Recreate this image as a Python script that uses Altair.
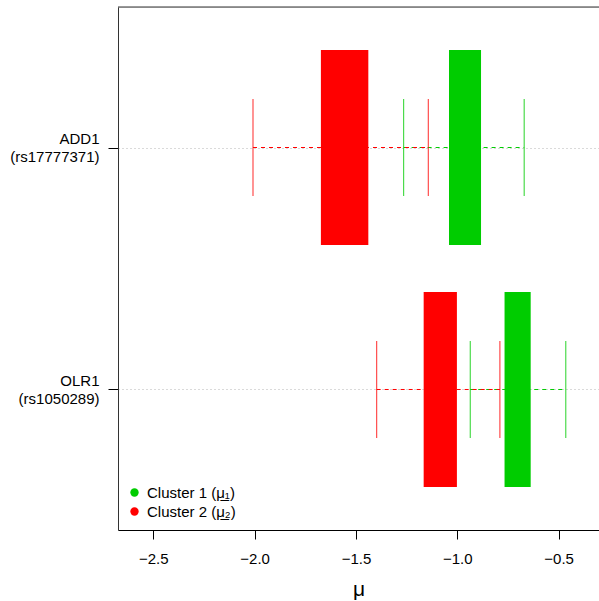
import altair as alt
import pandas as pd

# SNP labels (top to bottom)
snp_names = ["ADD1", "OLR1"]
snp_ids = ["(rs17777371)", "(rs1050289)"]

# cluster labels
clusters = ["Cluster 1 (\u03bc\u0332\u2081)", "Cluster 2 (\u03bc\u0332\u2082)"]
colors = ["#00CC00", "#FF0000"]

# one row per SNP x cluster
row_snp = ["ADD1", "ADD1", "OLR1", "OLR1"]
row_cluster = [clusters[0], clusters[1], clusters[0], clusters[1]]
ci_low = [-1.265, -2.008, -0.936, -1.398]
box_low = [-1.041, -1.673, -0.767, -1.166]
box_high = [-0.883, -1.439, -0.638, -1.002]
ci_high = [-0.670, -1.143, -0.465, -0.790]

x_ticks = [-2.5, -2.0, -1.5, -1.0, -0.5]

n = len(snp_names)
pos = [n - snp_names.index(s) for s in row_snp]
df = pd.DataFrame({
    "snp": row_snp, "pos": pos, "cluster": row_cluster,
    "ci_low": ci_low, "box_low": box_low, "box_high": box_high, "ci_high": ci_high,
})

W, H = 481, 523
xscale = alt.Scale(domain=[-2.674, -0.301], nice=False, zero=False, padding=0)
yscale = alt.Scale(domain=[0.4194, n + 0.5806], nice=False, zero=False, padding=0)
cscale = alt.Scale(domain=clusters, range=colors)

label_expr = " : ".join(
    f"datum.value == {n - i} ? ['{snp_names[i]}', '{snp_ids[i]}']" for i in range(n)
) + " : ''"

y_enc = alt.Y("pos:Q", scale=yscale,
              axis=alt.Axis(values=list(range(1, n + 1)), labelExpr=label_expr,
                            title=None, grid=True, gridColor="#b4b4b4", gridDash=[1, 3],
                            gridWidth=1, tickSize=10, tickColor="#000", domainColor="#333",
                            labelPadding=9, labelFontSize=15, labelLineHeight=18,
                            labelFont="Liberation Sans", labelColor="#000",
                            labelBaseline="middle", labelOffset=-9))
x_axis = alt.Axis(values=x_ticks, format=".1f", title="\u03bc", grid=False,
                  tickSize=9, tickColor="#000", domainColor="#000",
                  labelPadding=12, labelFontSize=15, labelFont="Liberation Sans",
                  labelColor="#000", titleFontSize=21, titleFont="Liberation Sans",
                  titleFontWeight="normal", titlePadding=12, titleColor="#000")

base = alt.Chart(df)

dashed = base.mark_rule(strokeDash=[4, 4], strokeWidth=1).encode(
    x=alt.X("ci_low:Q", scale=xscale, axis=x_axis), x2="ci_high:Q", y=y_enc,
    color=alt.Color("cluster:N", scale=cscale, legend=None))

whisk_lo = base.mark_tick(orient="vertical", size=97, thickness=1.2).encode(
    x=alt.X("ci_low:Q", scale=xscale), y=alt.Y("pos:Q", scale=yscale),
    color=alt.Color("cluster:N", scale=cscale, legend=None))
whisk_hi = base.mark_tick(orient="vertical", size=97, thickness=1.2).encode(
    x=alt.X("ci_high:Q", scale=xscale), y=alt.Y("pos:Q", scale=yscale),
    color=alt.Color("cluster:N", scale=cscale, legend=None))

boxes = base.mark_bar(orient="horizontal", size=195).encode(
    x=alt.X("box_low:Q", scale=xscale), x2="box_high:Q", y=alt.Y("pos:Q", scale=yscale),
    color=alt.Color("cluster:N", scale=cscale,
                    legend=alt.Legend(title=None, orient="none", legendX=9, legendY=478,
                                      symbolType="circle", symbolSize=70,
                                      symbolStrokeWidth=0, labelFontSize=15,
                                      labelFont="Liberation Sans", labelColor="#000",
                                      labelOffset=5, rowPadding=3, padding=0)))

top_border = alt.Chart(pd.DataFrame({"a": [0]})).mark_rule(color="#333", strokeWidth=1).encode(
    x=alt.value(0), x2=alt.value(W), y=alt.value(0))

chart = alt.layer(dashed, whisk_lo, whisk_hi, boxes, top_border).resolve_legend(
    color="independent"
).properties(
    width=W, height=H,
    autosize=alt.AutoSizeParams(type="none"),
    padding={"left": 118, "top": 7, "right": 0, "bottom": 71},
).configure_view(stroke=None).configure(background="white")

chart.save("out.html", embed_options={"renderer": "svg", "actions": False})
